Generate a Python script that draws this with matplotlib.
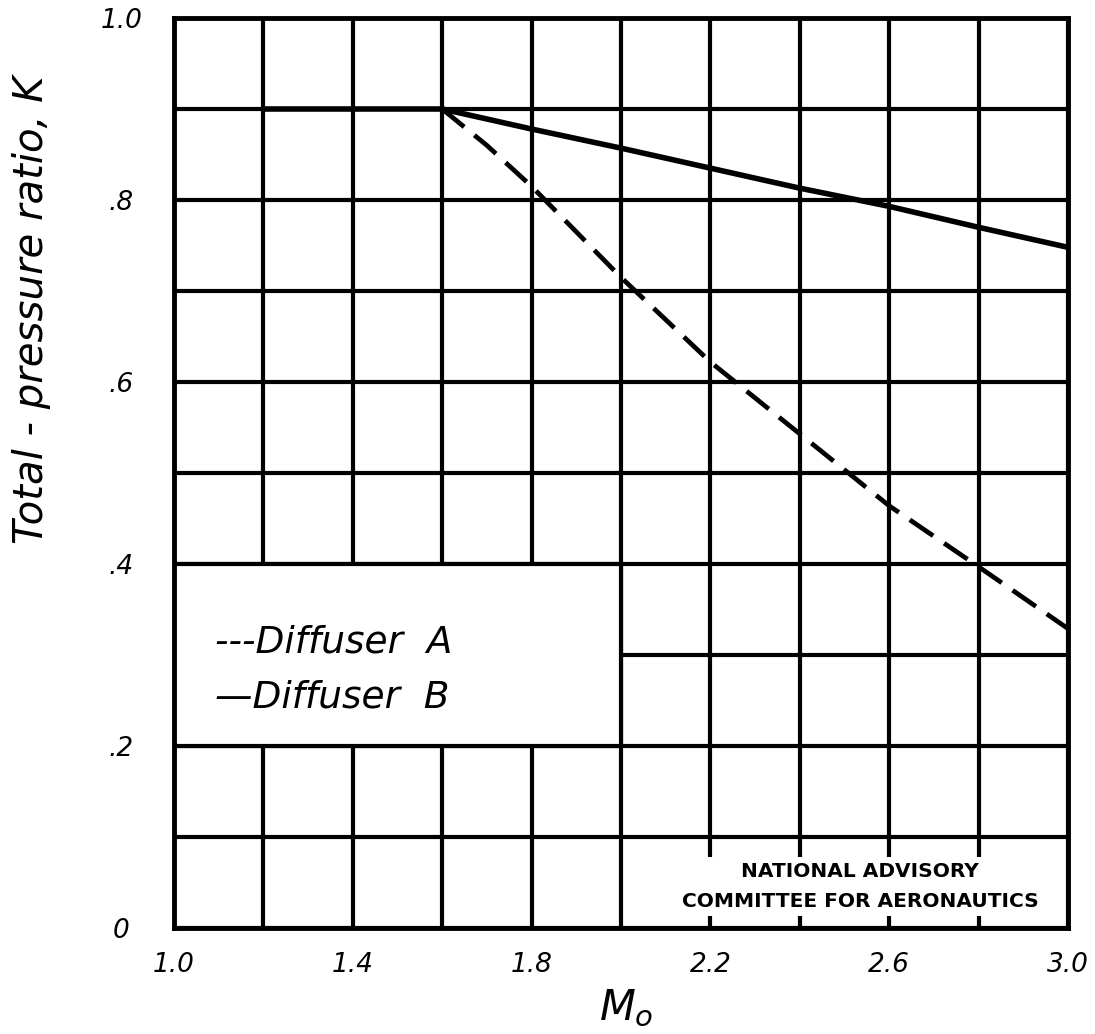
import matplotlib
matplotlib.use("Agg")
import matplotlib.pyplot as plt
from matplotlib.patches import Rectangle
import numpy as np

# readings from the chart
mach_b = [1.2, 1.6, 1.8, 2.0, 2.2, 2.4, 2.6, 2.8, 3.0]
k_b = [0.90, 0.90, 0.878, 0.857, 0.835, 0.813, 0.793, 0.770, 0.748]

mach_a = [1.6, 1.7, 1.8, 2.0, 2.2, 2.4, 2.6, 2.8, 3.0]
k_a = [0.90, 0.86, 0.815, 0.715, 0.622, 0.543, 0.464, 0.397, 0.329]

x_ticks = [1.0, 1.4, 1.8, 2.2, 2.6, 3.0]
x_labels = ["1.0", "1.4", "1.8", "2.2", "2.6", "3.0"]
y_ticks = [0.0, 0.2, 0.4, 0.6, 0.8, 1.0]
y_labels = ["0", ".2", ".4", ".6", ".8", "1.0"]

GRID_LW = 3.0

fig = plt.figure(figsize=(10.95, 10.34), dpi=100)
ax = fig.add_axes([0.1589, 0.1025, 0.8164, 0.8801])

ax.set_xlim(1.0, 3.0)
ax.set_ylim(0.0, 1.0)
ax.set_xticks(x_ticks)
ax.set_xticklabels(x_labels, fontsize=19, style="italic")
ax.set_xticks(np.arange(1.0, 3.01, 0.2), minor=True)
ax.set_yticks(y_ticks)
ax.set_yticklabels(y_labels, fontsize=19, style="italic", ha="center")
ax.set_yticks(np.arange(0.0, 1.01, 0.1), minor=True)
ax.tick_params(which="both", length=0)
ax.tick_params(axis="x", pad=17)
ax.tick_params(axis="y", pad=38)

ax.set_axisbelow(True)
ax.grid(which="both", color="black", linewidth=GRID_LW)
for s in ax.spines.values():
    s.set_linewidth(3.5)

# blank region for the key
ax.add_patch(Rectangle((1.0, 0.2), 1.0, 0.2, facecolor="white",
                       edgecolor="black", linewidth=GRID_LW, zorder=1))

ax.plot(mach_b, k_b, color="black", linewidth=4.0, zorder=3,
        solid_capstyle="butt")
ax.plot(mach_a, k_a, color="black", linewidth=3.4, zorder=3,
        linestyle=(0, (6, 2.8)))

ax.text(1.092, 0.314, "---Diffuser  A", fontsize=27, style="italic",
        va="center", ha="left", zorder=4)
ax.text(1.092, 0.253, "\u2014Diffuser  B", fontsize=27, style="italic",
        va="center", ha="left", zorder=4)

ax.text(2.535, 0.0455, "NATIONAL ADVISORY\nCOMMITTEE FOR AERONAUTICS",
        fontsize=14.5, fontweight="bold", ha="center", va="center",
        linespacing=1.7, zorder=5,
        bbox=dict(boxstyle="square,pad=0.25", facecolor="white",
                  edgecolor="none"))

fig.text(0.029, 0.70, "Total - pressure ratio, K", rotation=90,
         fontsize=29, style="italic", ha="center", va="center")
fig.text(0.572, 0.025, "$M_o$", fontsize=30, ha="center", va="center")

fig.savefig("out.png", dpi=100, facecolor="white")
